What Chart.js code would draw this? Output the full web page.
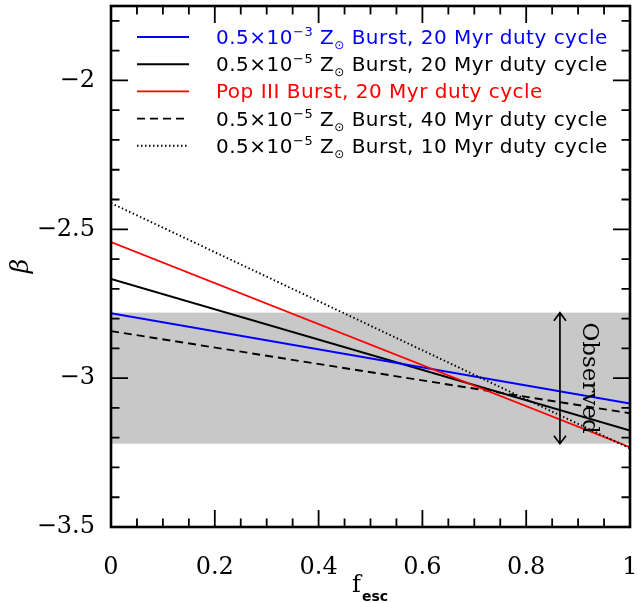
<!DOCTYPE html>
<html>
<head>
<meta charset="utf-8">
<script src="https://cdn.jsdelivr.net/npm/chart.js@4.4.0/dist/chart.umd.min.js"></script>
<style>
html, body { margin: 0; padding: 0; background: #fff; }
canvas { display: block; }
</style>
</head>
<body>
<canvas id="chart" width="637" height="603"></canvas>
<script>
// values
const fesc = [0, 1];
const betaBlue = [-2.782, -3.085];
const betaBlack = [-2.667, -3.176];
const betaRed = [-2.543, -3.232];
const betaDashed = [-2.842, -3.118];
const betaDotted = [-2.412, -3.236];
const observedBand = [-3.22, -2.78];
const observedArrowX = 0.865;
const xTicks = [0, 0.2, 0.4, 0.6, 0.8, 1];
const yTicks = [-3.5, -3, -2.5, -2];
const legendLabels = [
    "0.5×10^{−3} Z_{⊙} Burst, 20 Myr duty cycle",
    "0.5×10^{−5} Z_{⊙} Burst, 20 Myr duty cycle",
    "Pop III Burst, 20 Myr duty cycle",
    "0.5×10^{−5} Z_{⊙} Burst, 40 Myr duty cycle",
    "0.5×10^{−5} Z_{⊙} Burst, 10 Myr duty cycle",
];
const legendColors = ["#0000ff", "#000000", "#ff0000", "#000000", "#000000"];
const legendDashes = [[], [], [], [8, 5], [1.5, 2.5]];

function punkte(ys) {
    return fesc.map((x, i) => ({ x: x, y: ys[i] }));
}

function garis(label, ys, warna, dash, urutan) {
    return {
        label: label,
        data: punkte(ys),
        borderColor: warna,
        borderWidth: 1.9,
        borderDash: dash,
        pointRadius: 0,
        showLine: true,
        fill: false,
        order: urutan,
    };
}

// split "a^{b}c_{d}" into pieces with a mode
function pecahTeks(teks) {
    const hasil = [];
    const re = /([\^_])\{([^}]*)\}/g;
    let last = 0, m;
    while ((m = re.exec(teks)) !== null) {
        if (m.index > last) hasil.push({ t: teks.slice(last, m.index), mode: "n" });
        hasil.push({ t: m[2], mode: m[1] === "^" ? "sup" : "sub" });
        last = re.lastIndex;
    }
    if (last < teks.length) hasil.push({ t: teks.slice(last), mode: "n" });
    return hasil;
}

function nolkanPadding(s) {
    s.paddingTop = 0;
    s.paddingBottom = 0;
    s.paddingLeft = 0;
    s.paddingRight = 0;
}

const bandPlugin = {
    id: "band",
    beforeDatasetsDraw(chart) {
        const { ctx, chartArea, scales } = chart;
        const yTop = scales.y.getPixelForValue(observedBand[1]);
        const yBot = scales.y.getPixelForValue(observedBand[0]);
        ctx.save();
        ctx.fillStyle = "#c8c8c8";
        ctx.fillRect(chartArea.left, yTop, chartArea.right - chartArea.left, yBot - yTop);
        ctx.restore();
    },
};

const hiasanPlugin = {
    id: "hiasan",
    afterDatasetsDraw(chart) {
        const { ctx, chartArea, scales } = chart;
        const x = scales.x, y = scales.y;

        // observed arrow
        const ax = x.getPixelForValue(observedArrowX);
        const a1 = y.getPixelForValue(observedBand[1]);
        const a2 = y.getPixelForValue(observedBand[0]);
        ctx.save();
        ctx.strokeStyle = "#000";
        ctx.lineWidth = 1.7;
        ctx.beginPath();
        ctx.moveTo(ax, a1); ctx.lineTo(ax, a2);
        ctx.moveTo(ax - 6, a1 + 8); ctx.lineTo(ax, a1); ctx.lineTo(ax + 6, a1 + 8);
        ctx.moveTo(ax - 6, a2 - 8); ctx.lineTo(ax, a2); ctx.lineTo(ax + 6, a2 - 8);
        ctx.stroke();

        // "Observed" label
        ctx.translate(x.getPixelForValue(0.92), y.getPixelForValue(-3.0));
        ctx.rotate(Math.PI / 2);
        ctx.fillStyle = "#000";
        ctx.font = "23px 'DejaVu Serif'";
        ctx.textAlign = "center";
        ctx.textBaseline = "middle";
        ctx.fillText("Observed", 0, 0);
        ctx.restore();
    },
    afterDraw(chart) {
        const { ctx, chartArea, scales } = chart;
        const x = scales.x, y = scales.y;
        const L = chartArea.left, R = chartArea.right, T = chartArea.top, B = chartArea.bottom;

        ctx.save();
        ctx.strokeStyle = "#000";
        ctx.lineWidth = 1.8;
        ctx.beginPath();
        for (let i = 0; i <= 20; i++) {
            const px = x.getPixelForValue(i * 0.05);
            const len = i % 4 === 0 ? 17 : 8.5;
            ctx.moveTo(px, B); ctx.lineTo(px, B - len);
            ctx.moveTo(px, T); ctx.lineTo(px, T + len);
        }
        for (let i = -35; i <= -18; i++) {
            const py = y.getPixelForValue(i / 10);
            const len = i % 5 === 0 ? 17 : 8.5;
            ctx.moveTo(L, py); ctx.lineTo(L + len, py);
            ctx.moveTo(R, py); ctx.lineTo(R - len, py);
        }
        ctx.stroke();
        ctx.lineWidth = 2.6;
        ctx.strokeRect(L, T, R - L, B - T);

        // legend
        legendLabels.forEach((lbl, i) => {
            const ly = 37 + i * 27.2;
            ctx.strokeStyle = legendColors[i];
            ctx.lineWidth = 1.9;
            ctx.setLineDash(legendDashes[i]);
            ctx.beginPath();
            ctx.moveTo(137, ly); ctx.lineTo(189, ly);
            ctx.stroke();
            ctx.setLineDash([]);

            let tx = 216;
            ctx.fillStyle = legendColors[i];
            ctx.textAlign = "left";
            ctx.textBaseline = "alphabetic";
            ctx.letterSpacing = "0.5px";
            pecahTeks(lbl).forEach((p) => {
                let dy = 0;
                if (p.mode === "n") ctx.font = "20px 'DejaVu Sans'";
                else if (p.mode === "sup") { ctx.font = "13px 'DejaVu Sans'"; dy = -8; }
                else { ctx.font = "12px 'DejaVu Sans'"; dy = 5; }
                ctx.fillText(p.t, tx, ly + 7 + dy);
                tx += ctx.measureText(p.t).width;
            });
            ctx.letterSpacing = "0px";
        });

        // axis titles
        ctx.fillStyle = "#000";
        ctx.font = "24px 'DejaVu Serif'";
        ctx.textAlign = "left";
        ctx.textBaseline = "alphabetic";
        ctx.fillText("f", 352, 592);
        const fw = ctx.measureText("f").width;
        ctx.font = "bold 14px 'DejaVu Sans'";
        ctx.fillText("esc", 352 + fw + 1, 601);

        ctx.translate(21, 266);
        ctx.rotate(-Math.PI / 2);
        ctx.font = "italic 25px 'DejaVu Serif'";
        ctx.textAlign = "center";
        ctx.textBaseline = "middle";
        ctx.fillText("β", 0, 0);
        ctx.restore();
    },
};

function labelAngka(v) {
    if (v === 0) return "0";
    const s = Number.isInteger(v) ? String(Math.abs(v)) : Math.abs(v).toFixed(1);
    return v < 0 ? "−" + s : s;
}

new Chart(document.getElementById("chart").getContext("2d"), {
    type: "scatter",
    data: {
        datasets: [
            garis("dotted", betaDotted, "#000000", [1.5, 2.5], 0),
            garis("red", betaRed, "#ff0000", [], 1),
            garis("blue", betaBlue, "#0000ff", [], 2),
            garis("black", betaBlack, "#000000", [], 3),
            garis("dashed", betaDashed, "#000000", [8, 5], 4),
        ],
    },
    options: {
        responsive: false,
        animation: false,
        layout: { autoPadding: false, padding: { top: 6, right: 7, left: 0, bottom: 0 } },
        plugins: { legend: { display: false }, tooltip: { enabled: false } },
        scales: {
            x: {
                type: "linear",
                min: 0,
                max: 1,
                grid: { display: false, drawTicks: false },
                border: { display: false },
                afterBuildTicks: (s) => { s.ticks = xTicks.map((v) => ({ value: v })); },
                afterFit: (s) => { s.height = 76; nolkanPadding(s); },
                ticks: {
                    autoSkip: false,
                    maxRotation: 0,
                    padding: 26,
                    color: "#000",
                    font: { family: "DejaVu Serif", size: 24 },
                    callback: (v) => labelAngka(v),
                },
            },
            y: {
                type: "linear",
                min: -3.5,
                max: -1.75,
                grid: { display: false, drawTicks: false },
                border: { display: false },
                afterBuildTicks: (s) => { s.ticks = yTicks.map((v) => ({ value: v })); },
                afterFit: (s) => { s.width = 111; nolkanPadding(s); },
                ticks: {
                    autoSkip: false,
                    padding: 16,
                    color: "#000",
                    font: { family: "DejaVu Serif", size: 24 },
                    callback: (v) => labelAngka(v),
                },
            },
        },
    },
    plugins: [bandPlugin, hiasanPlugin],
});
</script>
</body>
</html>
